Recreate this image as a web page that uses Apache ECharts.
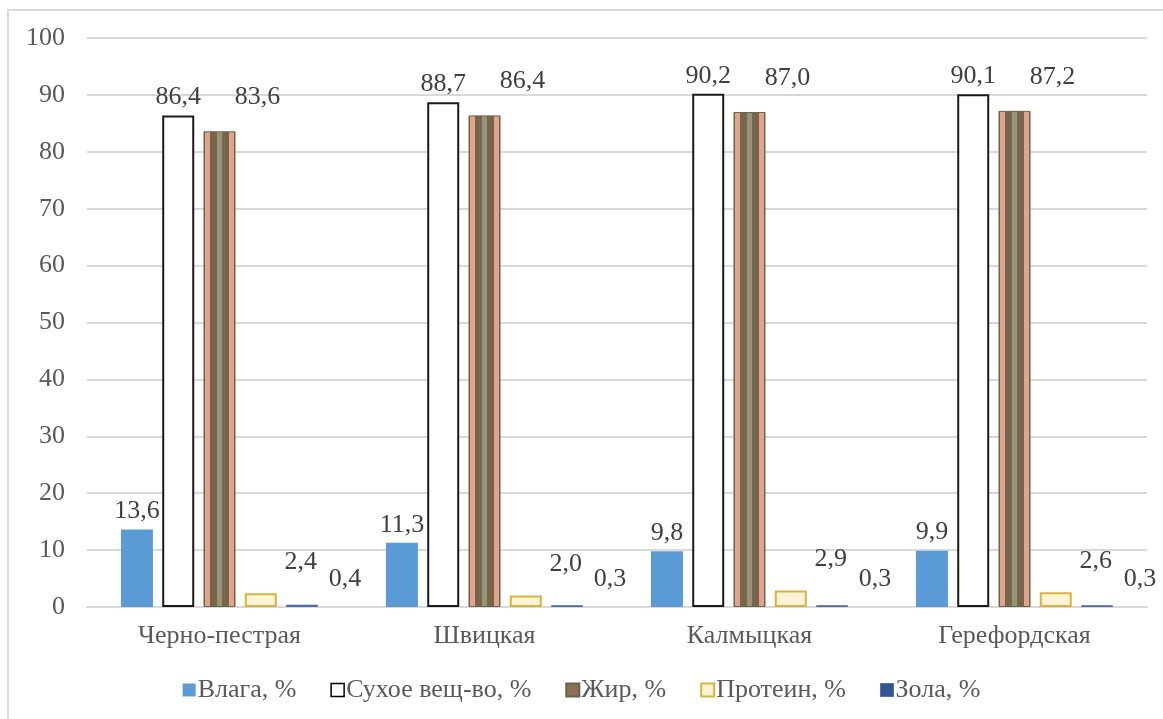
<!DOCTYPE html>
<html>
<head>
<meta charset="utf-8">
<script src="https://cdn.jsdelivr.net/npm/echarts@6/dist/echarts.min.js"></script>
<style>
  html, body { margin: 0; padding: 0; background: #fff; }
  #chart { width: 1163px; height: 719px; }
</style>
</head>
<body>
<div id="chart"></div>
<script>
// Breeds and composition values, %
const breeds = ['Черно-пестрая', 'Швицкая', 'Калмыцкая', 'Герефордская'];
const moisture = [13.6, 11.3, 9.8, 9.9];
const dryMatter = [86.4, 88.7, 90.2, 90.1];
const fat = [83.6, 86.4, 87.0, 87.2];
const protein = [2.4, 2.0, 2.9, 2.6];
const ash = [0.4, 0.3, 0.3, 0.3];
const yTicks = [0, 10, 20, 30, 40, 50, 60, 70, 80, 90, 100];

const FONT = '"Liberation Serif", "Times New Roman", serif';
const TEXT = '#404040';
const AXIS_TEXT = '#595959';
const fmt = p => p.value.toFixed(1).replace('.', ',');

// Striped bevel look for the fat bars
const fatFill = new echarts.graphic.LinearGradient(0, 0, 1, 0, [
  { offset: 0.00, color: '#6f684c' },
  { offset: 0.06, color: '#6f684c' },
  { offset: 0.06, color: '#e0a48c' },
  { offset: 0.20, color: '#e0a48c' },
  { offset: 0.20, color: '#7a6449' },
  { offset: 0.33, color: '#7a6449' },
  { offset: 0.33, color: '#6f6a50' },
  { offset: 0.41, color: '#6f6a50' },
  { offset: 0.41, color: '#9b927a' },
  { offset: 0.59, color: '#9b927a' },
  { offset: 0.59, color: '#6f6a50' },
  { offset: 0.67, color: '#6f6a50' },
  { offset: 0.67, color: '#7a6449' },
  { offset: 0.80, color: '#7a6449' },
  { offset: 0.80, color: '#e0a48c' },
  { offset: 0.94, color: '#e0a48c' },
  { offset: 0.94, color: '#6f684c' },
  { offset: 1.00, color: '#6f684c' }
]);

const labelBase = {
  show: true,
  position: 'top',
  formatter: fmt,
  color: TEXT,
  fontFamily: FONT,
  fontSize: 26
};

const chart = echarts.init(document.getElementById('chart'), null, { renderer: 'canvas' });

chart.setOption({
  animation: false,
  backgroundColor: '#fff',
  textStyle: { fontFamily: FONT },
  graphic: [{
    type: 'rect',
    shape: { x: 8, y: 10, width: 1300, height: 900 },
    style: { fill: 'none', stroke: '#d9d9d9', lineWidth: 2 },
    silent: true,
    z: -1
  }],
  grid: { left: 87, right: 16, top: 38, bottom: 112, containLabel: false },
  legend: {
    bottom: 11,
    left: 'center',
    icon: 'rect',
    itemWidth: 13,
    itemHeight: 13,
    itemGap: 34,
    textStyle: { color: AXIS_TEXT, fontFamily: FONT, fontSize: 26, padding: [0, 0, 0, -3] },
    data: [
      { name: 'Влага, %' },
      { name: 'Сухое вещ-во, %', itemStyle: { color: '#fff', borderColor: '#000', borderWidth: 1.5 } },
      { name: 'Жир, %', itemStyle: { color: '#8b7055' } },
      { name: 'Протеин, %', itemStyle: { color: '#fff5d6', borderColor: '#d9b340', borderWidth: 2 } },
      { name: 'Зола, %', itemStyle: { color: '#2f5597', borderColor: '#4a70b8', borderWidth: 1 } }
    ]
  },
  xAxis: {
    type: 'category',
    data: breeds,
    axisTick: { show: false },
    axisLine: { lineStyle: { color: '#d9d9d9', width: 2 } },
    axisLabel: { color: AXIS_TEXT, fontFamily: FONT, fontSize: 26, margin: 16 }
  },
  yAxis: {
    type: 'value',
    min: yTicks[0],
    max: yTicks[yTicks.length - 1],
    interval: yTicks[1] - yTicks[0],
    axisLine: { show: false },
    axisTick: { show: false },
    axisLabel: { color: AXIS_TEXT, fontFamily: FONT, fontSize: 26, margin: 22 },
    splitLine: { lineStyle: { color: '#d9d9d9', width: 2 } }
  },
  series: [
    {
      name: 'Влага, %', type: 'bar', data: moisture,
      barWidth: 32, barGap: '29%',
      itemStyle: { color: '#5b9bd5' },
      label: { ...labelBase }
    },
    {
      name: 'Сухое вещ-во, %', type: 'bar', data: dryMatter,
      barWidth: 32,
      itemStyle: { color: '#fff', borderColor: '#1a1a1a', borderWidth: 2 },
      label: { ...labelBase }
    },
    {
      name: 'Жир, %', type: 'bar', data: fat,
      barWidth: 32,
      itemStyle: { color: fatFill, borderColor: '#6a6349', borderWidth: 1 },
      label: { ...labelBase, offset: [38, -16] }
    },
    {
      name: 'Протеин, %', type: 'bar', data: protein,
      barWidth: 32,
      itemStyle: { color: '#fff5d6', borderColor: '#d9b340', borderWidth: 2 },
      label: { ...labelBase, offset: [40, -13] }
    },
    {
      name: 'Зола, %', type: 'bar', data: ash,
      barWidth: 32,
      itemStyle: { color: '#2f5597', borderColor: '#4a6aa8', borderWidth: 1 },
      label: { ...labelBase, offset: [43, -8] }
    }
  ]
});
</script>
</body>
</html>
